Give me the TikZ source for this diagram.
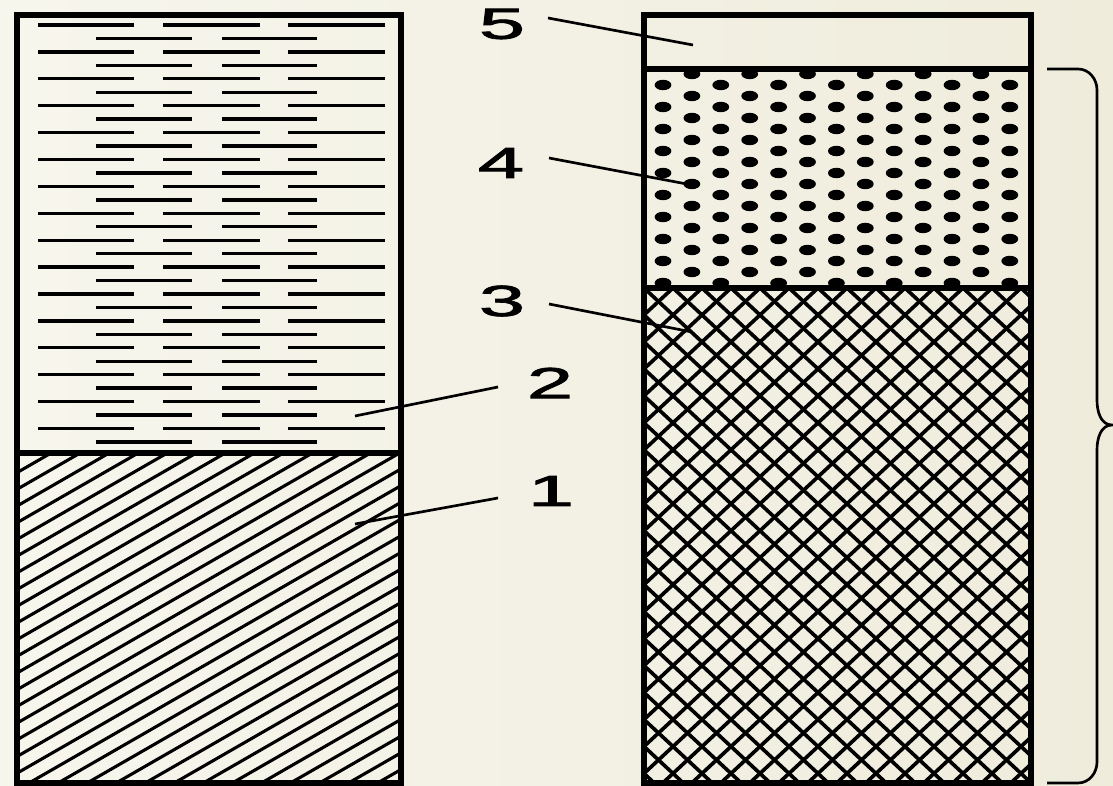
\documentclass[tikz,border=0pt]{standalone}
\usepackage{fontspec}
\setmainfont{Liberation Sans}
\newfontfamily\numfont[FakeBold=1.6]{Liberation Sans}
\usepackage{graphicx}
\usetikzlibrary{calc}

\definecolor{bgleft}{RGB}{247,246,237}
\definecolor{bgright}{RGB}{239,236,220}

\newcommand{\widenum}[1]{\scalebox{1.9}[1]{#1}}

\begin{document}
\begin{tikzpicture}[x=0.025cm, y=-0.025cm,
    frame/.style={line width=3.9pt},
    dashline/.style={line width=2.4pt},
    hatchline/.style={line width=2.2pt},
    crossline/.style={line width=2.6pt},
    leader/.style={line width=1.9pt},
    numlabel/.style={inner sep=0pt, font=\numfont\fontsize{31}{31}\selectfont}]
    % Background
    \useasboundingbox (0,0) rectangle (1113,786);
    \shade[left color=bgleft, right color=bgright] (0,0) rectangle (1113,786);

    % Left column - upper layer (dashes)
    \foreach \k in {0,2,...,30} {
        \pgfmathsetmacro{\yy}{25+13.45*\k}
        \draw[dashline] (38,\yy) -- (134,\yy) (163,\yy) -- (260,\yy) (288,\yy) -- (385,\yy);
    }
    \foreach \k in {1,3,...,31} {
        \pgfmathsetmacro{\yy}{25+13.45*\k}
        \draw[dashline] (96,\yy) -- (192,\yy) (222,\yy) -- (317,\yy);
    }

    % Left column - lower layer (hatching)
    \begin{scope}
        \clip (17,453) rectangle (401,783);
        \foreach \k in {-29,...,5} {
            \pgfmathsetmacro{\cc}{933.3+16.7*\k}
            \draw[hatchline] (0,\cc) -- (420,{\cc-241.5});
        }
    \end{scope}

    % Left column - frame
    \draw[frame] (17,15) rectangle (401,783);
    \draw[frame] (17,453) -- (401,453);

    % Right column - dotted layer
    \foreach \k in {0,2,...,12} {
        \foreach \j in {0,...,9}
            \fill ({663+28.9*\k},{85+22*\j}) ellipse [x radius=0.21cm, y radius=0.13cm];
    }
    \foreach \k in {1,3,...,11} {
        \foreach \j in {0,...,9}
            \fill ({663+28.9*\k},{74+22*\j}) ellipse [x radius=0.21cm, y radius=0.13cm];
    }

    % Right column - cross hatching
    \begin{scope}
        \clip (644,288) rectangle (1031,783);
        \foreach \k in {-19,...,33} {
            \pgfmathsetmacro{\xx}{644+29*\k}
            \draw[crossline] (\xx,288) -- ({\xx-540},790.2);
            \draw[crossline] (\xx,288) -- ({\xx+540},790.2);
        }
    \end{scope}

    % Right column - frame
    \draw[frame] (644,15) rectangle (1031,783);
    \draw[frame] (644,69) -- (1031,69);
    \draw[frame] (644,288) -- (1031,288);

    % Brace
    \draw[leader] (1047,69) -- (1078,69) to[out=0,in=90] (1097,90) -- (1097,400)
        to[out=-90,in=180] (1112,425) to[out=180,in=90] (1097,450) -- (1097,762)
        to[out=-90,in=0] (1078,783) -- (1047,783);

    % Labels
    \node[numlabel] (l5) at (502,24) {\widenum{5}};
    \node[numlabel] (l4) at (501,163) {\widenum{4}};
    \node[numlabel] (l3) at (502,301) {\widenum{3}};
    \node[numlabel] (l2) at (550,383) {\widenum{2}};
    \node[numlabel] (l1) at (551,491) {\widenum{1}};

    % Pointed spots
    \coordinate (p5) at (693,45);
    \coordinate (p4) at (692,185);
    \coordinate (p3) at (692,332);
    \coordinate (p2) at (355,416);
    \coordinate (p1) at (355,524);

    % Leader lines
    \draw[leader] ($(l5)+(46,-6)$) -- (p5);
    \draw[leader] ($(l4)+(48,-5)$) -- (p4);
    \draw[leader] ($(l3)+(47,3)$) -- (p3);
    \draw[leader] ($(l2)+(-52,4)$) -- (p2);
    \draw[leader] ($(l1)+(-53,7)$) -- (p1);
\end{tikzpicture}
\end{document}
